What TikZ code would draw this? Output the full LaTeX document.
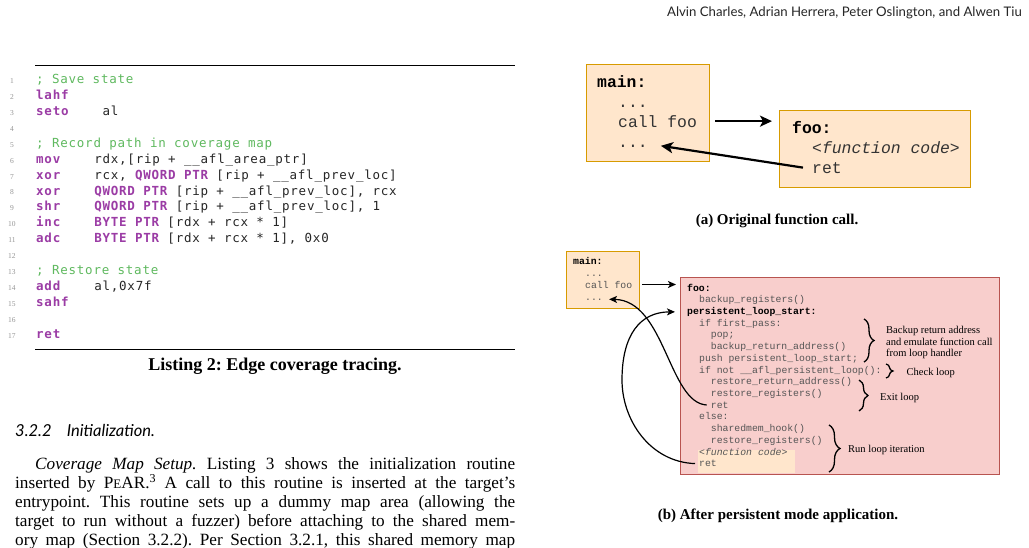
\documentclass[tikz,border=0pt]{standalone}
\usepackage{fontspec}
\setmainfont{Liberation Serif}
\newfontfamily\lstfont[LetterSpace=6.2]{DejaVu Sans Mono}
\newfontfamily\cfont{Liberation Mono}
\newfontfamily\hdrfont{Lato}
\usetikzlibrary{arrows.meta,decorations.pathreplacing}
\definecolor{kwc}{RGB}{155,60,165}
\definecolor{cmc}{RGB}{95,185,95}
\definecolor{lnc}{RGB}{150,150,150}
\definecolor{orfill}{HTML}{FFE6CC}
\definecolor{orline}{HTML}{D79B00}
\definecolor{pkfill}{HTML}{F8CECC}
\definecolor{pkline}{HTML}{B85450}
\definecolor{codegray}{HTML}{555555}
\newcommand\kw[1]{{\color{kwc}\bfseries #1}}
\newcommand\cm[1]{{\color{cmc}#1}}
\frenchspacing
\begin{document}
\begin{tikzpicture}[x=1pt,y=-1pt,
  lst/.style={anchor=base west,inner sep=0pt,font=\lstfont\fontsize{12.5}{12.5}\selectfont,text=black!85},
  lnum/.style={anchor=base,inner sep=0pt,font=\fontsize{7.5}{7.5}\selectfont,text=lnc},
  acode/.style={anchor=base west,inner sep=0pt,font=\cfont\fontsize{16.4}{16.4}\selectfont,text=black!80},
  bcode/.style={anchor=base west,inner sep=0pt,font=\cfont\fontsize{9.8}{9.8}\selectfont,text=codegray},
  orbox/.style={draw=orline,fill=orfill,line width=1.3pt,inner sep=0pt,anchor=north west},
  pkbox/.style={draw=pkline,fill=pkfill,line width=1.3pt,inner sep=0pt,anchor=north west},
  bigarr/.style={line width=2.2pt,-{Stealth[length=12pt,width=11pt,inset=3pt]}},
  smarr/.style={line width=1.2pt,-{Stealth[length=8pt,width=7pt,inset=2pt]}},
  brc/.style={decorate,line width=1.3pt},
  lbl/.style={anchor=base west,inner sep=0pt,font=\fontsize{10.5}{10.5}\selectfont},
  capt/.style={anchor=base,inner sep=0pt,font=\bfseries\fontsize{15}{15}\selectfont},
  para/.style={anchor=base west,inner sep=0pt,font=\fontsize{17.2}{19}\selectfont},
  hdg/.style={anchor=base west,inner sep=0pt,font=\hdrfont\itshape\fontsize{16.5}{16.5}\selectfont}
]
\useasboundingbox (0,0) rectangle (1029,547);
\fill[white] (0,0) rectangle (1029,547);

% header
\node[anchor=base east,inner sep=0pt,font=\hdrfont\fontsize{13.2}{13.2}\selectfont,text=black!85] (hdr) at (1022,16) {Alvin Charles, Adrian Herrera, Peter Oslington, and Alwen Tiu};

% listing rules
\draw[line width=0.8pt] (35,65) -- (515,65);
\draw[line width=1.2pt] (35,349.3) -- (515,349.3);

% line numbers
\foreach \n in {1,...,17} {
  \node[lnum] (ln\n) at (12,{83.4+(\n-1)*15.94}) {\n};
}
% code
\node[lst] (c1) at (36,83.4) {\cm{; Save state}};
\node[lst] (c2) at (36,99.3) {\kw{lahf}};
\node[lst] (c3a) at (36,115.3) {\kw{seto}};
\node[lst] (c3b) at (102.4,115.3) {al};
\node[lst] (c5) at (36,147.2) {\cm{; Record path in coverage map}};
\node[lst] (c6a) at (36,163.1) {\kw{mov}};
\node[lst] (c6b) at (94.1,163.1) {rdx,[rip + \_\_afl\_area\_ptr]};
\node[lst] (c7a) at (36,179.0) {\kw{xor}};
\node[lst] (c7b) at (94.1,179.0) {rcx, \kw{QWORD PTR} [rip + \_\_afl\_prev\_loc]};
\node[lst] (c8a) at (36,195.0) {\kw{xor}};
\node[lst] (c8b) at (94.1,195.0) {\kw{QWORD PTR} [rip + \_\_afl\_prev\_loc], rcx};
\node[lst] (c9a) at (36,210.9) {\kw{shr}};
\node[lst] (c9b) at (94.1,210.9) {\kw{QWORD PTR} [rip + \_\_afl\_prev\_loc], 1};
\node[lst] (c10a) at (36,226.9) {\kw{inc}};
\node[lst] (c10b) at (94.1,226.9) {\kw{BYTE PTR} [rdx + rcx * 1]};
\node[lst] (c11a) at (36,242.8) {\kw{adc}};
\node[lst] (c11b) at (94.1,242.8) {\kw{BYTE PTR} [rdx + rcx * 1], 0x0};
\node[lst] (c13) at (36,274.7) {\cm{; Restore state}};
\node[lst] (c14a) at (36,290.6) {\kw{add}};
\node[lst] (c14b) at (94.1,290.6) {al,0x7f};
\node[lst] (c15) at (36,306.5) {\kw{sahf}};
\node[lst] (c17) at (36,338.4) {\kw{ret}};

% listing caption
\node[anchor=base,inner sep=0pt,font=\bfseries\fontsize{18}{18}\selectfont] (lcap) at (275,370) {Listing 2: Edge coverage tracing.};

% section heading
\node[hdg] (secn) at (15,436) {3.2.2};
\node[hdg] (sect) at (66.7,436) {Initialization.};

% paragraph
\node[para] (p1) at (35,469.5) {\makebox[480pt][s]{\textit{Coverage Map Setup.} Listing 3 shows the initialization routine}};
\node[para] (p2) at (15,488.5) {\makebox[500pt][s]{inserted by P{\fontsize{13}{13}\selectfont E}AR.\textsuperscript{3} A call to this routine is inserted at the target's}};
\node[para] (p3) at (15,507.5) {\makebox[500pt][s]{entrypoint. This routine sets up a dummy map area (allowing the}};
\node[para] (p4) at (15,526.5) {\makebox[500pt][s]{target to run without a fuzzer) before attaching to the shared mem-}};
\node[para] (p5) at (15,545) {\makebox[500pt][s]{ory map (Section 3.2.2). Per Section 3.2.1, this shared memory map}};

% ===== (a) =====
\node[orbox,minimum width=123pt,minimum height=97pt] (amain) at (586,64) {};
\node[acode,text=black] (amainl) at (597,87.5) {\bfseries main:};
\node[acode] (adots1) at (618,107) {...};
\node[acode] (acall) at (618,127) {call foo};
\node[acode] (adots2) at (618,147) {...};
\node[orbox,minimum width=191pt,minimum height=77pt] (afoo) at (779,110) {};
\node[acode,text=black] (afool) at (792,133) {\bfseries foo:};
\node[acode] (afc) at (812,153.5) {\itshape <function code>};
\node[acode] (aret) at (812,173) {ret};
\draw[bigarr,shorten <=18pt,shorten >=7pt] (acall.east) -- (acall.east -| afoo.west);
\draw[bigarr] ([xshift=-9pt]aret.west) -- ([xshift=13pt]adots2.east);
\node[capt] (acap) at (777,224) {(a) Original function call.};

% ===== (b) =====
\node[orbox,minimum width=73pt,minimum height=57.3pt] (bmain) at (566,250.7) {};
\node[bcode,text=black] (bmainl) at (573,264) {\bfseries main:};
\node[bcode] (bdots1) at (585,276) {...};
\node[bcode] (bcall) at (585,288) {call foo};
\node[bcode] (bdots2) at (585,300) {...};

\node[pkbox,minimum width=319pt,minimum height=197pt] (bfoo) at (680,277) {};
\node[fill=orfill,inner sep=0pt,anchor=north west,minimum width=97pt,minimum height=23pt] (hl) at (698,450) {};

\node[bcode,text=black] (b1) at (687,291) {\bfseries foo:};
\node[bcode] (b2) at (699,302.7) {backup\_registers()};
\node[bcode,text=black] (bpls) at (687,314.4) {\bfseries persistent\_loop\_start:};
\node[bcode] (b4) at (699,326.2) {if first\_pass:};
\node[bcode] (b5) at (710.7,337.9) {pop;};
\node[bcode] (b6) at (710.7,349.6) {backup\_return\_address()};
\node[bcode] (b7) at (699,361.3) {push persistent\_loop\_start;};
\node[bcode] (b8) at (699,373.0) {if not \_\_afl\_persistent\_loop():};
\node[bcode] (b9) at (710.7,384.8) {restore\_return\_address()};
\node[bcode] (b10) at (710.7,396.5) {restore\_registers()};
\node[bcode] (bret1) at (710.7,408.2) {ret};
\node[bcode] (b12) at (699,419.9) {else:};
\node[bcode] (b13) at (710.7,431.6) {sharedmem\_hook()};
\node[bcode] (b14) at (710.7,443.4) {restore\_registers()};
\node[bcode] (b15) at (699,455.1) {\itshape <function code>};
\node[bcode] (bret2) at (699,466.8) {ret};

% braces
\draw[brc,decoration={brace,amplitude=10pt}] (864,319) -- (864,362);
\draw[brc,decoration={brace,amplitude=7pt}] (886,364) -- (886,378);
\draw[brc,decoration={brace,amplitude=9pt}] (859,380) -- (859,411);
\draw[brc,decoration={brace,amplitude=11pt}] (829,425) -- (829,472);
\node[lbl] (l1a) at (886,333.5) {Backup return address};
\node[lbl] (l1b) at (886,345) {and emulate function call};
\node[lbl] (l1c) at (886,356.5) {from loop handler};
\node[lbl] (l2) at (906.5,375) {Check loop};
\node[lbl] (l3) at (880,400) {Exit loop};
\node[lbl] (l4) at (848,452) {Run loop iteration};

% arrows
\draw[smarr,shorten <=10pt,shorten >=4pt] (bcall.east) -- (bcall.east -| bfoo.west);
\draw[smarr] ([xshift=-4pt]bret1.west) .. controls +(-38,-2) and +(56,1) .. ([xshift=6pt]bdots2.east);
\draw[smarr] ([xshift=-4pt]bret2.west) .. controls (650,462) and (622,420) .. (622,380)
  .. controls (622,335) and (640,312) .. ([xshift=-12pt]bpls.west);

\node[capt] (bcap) at (778,519) {(b) After persistent mode application.};
\end{tikzpicture}
\end{document}
